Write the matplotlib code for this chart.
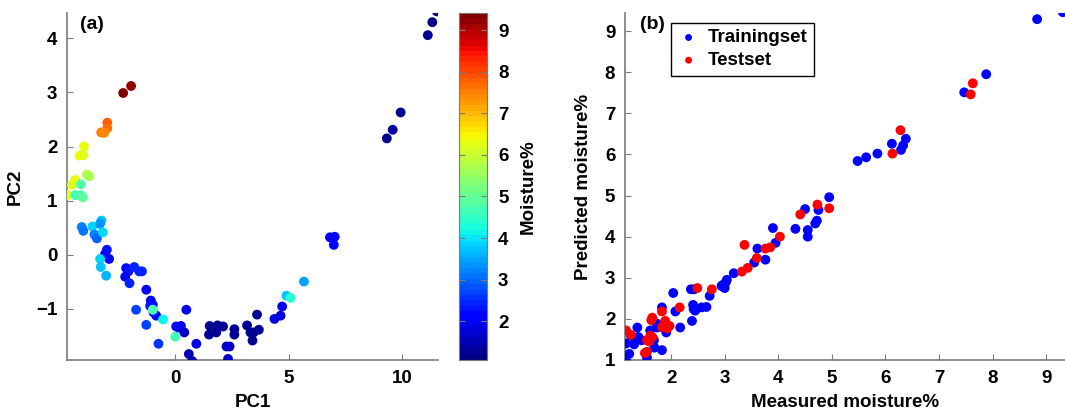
import numpy as np
import matplotlib
matplotlib.use("Agg")
import matplotlib.pyplot as plt

plt.rcParams['font.family'] = ['Liberation Sans', 'DejaVu Sans']
plt.rcParams['font.weight'] = 'bold'
plt.rcParams['axes.labelweight'] = 'bold'

# ---- (a) PCA scores coloured by moisture ----
pc1 = [11.55, 11.35, 11.15, 9.95, 9.6, 9.34,
       -2.3, -1.95, -3.0, -3.0, -3.27, -3.14,
       -4.03, -4.23, -4.06, -3.9, -3.8, -4.42, -4.56, -4.76,
       -4.17, -4.42, -4.17, -4.08,
       -4.13, -4.06, -3.66, -3.26, -3.32, -3.57, -3.46, -3.2,
       -3.02, -3.1, -2.92, -3.32, -3.29, -3.05,
       -2.17, -2.07, -2.21, -1.81, -1.59, -1.47,
       -2.02, -1.28, -1.08, -0.99, -1.11, -0.84, -0.96, -0.99,
       -1.73, -1.28, -0.54, -0.74, 0.0,
       0.04, 0.25, 0.15, 0.4, 0.49, 0.93, 0.6, 0.75,
       1.52, 1.49, 1.81, 1.87, 2.11, 2.61, 2.61,
       2.26, 2.4, 2.33,
       3.17, 3.32, 3.41, 3.61, 3.46, 3.69,
       4.38, 4.65, 4.72, 4.91, 5.09, 5.68,
       6.83, 7.04, 7.0]
pc2 = [4.5, 4.3, 4.06, 2.63, 2.31, 2.15,
       2.99, 3.12, 2.44, 2.34, 2.26, 2.25,
       2.0, 1.83, 1.84, 1.48, 1.45, 1.38, 1.29, 1.1,
       1.3, 1.1, 1.1, 1.06,
       0.51, 0.44, 0.52, 0.63, 0.57, 0.37, 0.30, 0.41,
       0.09, 0.01, -0.08, -0.08, -0.23, -0.39,
       -0.25, -0.31, -0.41, -0.23, -0.31, -0.31,
       -0.53, -0.65, -0.85, -0.93, -0.95, -1.13, -1.07, -1.02,
       -1.02, -1.30, -1.20, -1.65, -1.52,
       -1.33, -1.32, -1.35, -1.44, -1.02, -1.65, -1.84, -1.97,
       -1.32, -1.48, -1.44, -1.31, -1.33, -1.38, -1.48,
       -1.70, -1.70, -1.93,
       -1.31, -1.44, -1.59, -1.11, -1.44, -1.39,
       -1.19, -1.13, -0.96, -0.76, -0.80, -0.50,
       0.32, 0.33, 0.18]
moisture = [1.2, 1.2, 1.25, 1.3, 1.35, 1.3,
            9.35, 9.2, 7.8, 7.7, 7.5, 7.4,
            6.4, 6.3, 6.2, 5.8, 5.7, 6.3, 6.2, 6.4,
            4.8, 4.6, 4.7, 4.9,
            3.2, 3.1, 3.9, 3.7, 3.3, 3.2, 3.0, 3.9,
            2.3, 2.0, 2.0, 3.9, 3.8, 3.6,
            2.2, 2.3, 2.0, 2.5, 2.5, 2.5,
            2.5, 2.0, 2.1, 2.0, 2.3, 2.1, 2.3, 4.8,
            2.7, 2.7, 4.1, 2.6, 4.6,
            2.1, 2.1, 2.2, 1.6, 1.9, 1.9, 1.5, 1.4,
            1.25, 1.25, 1.3, 1.3, 1.3, 1.25, 1.25,
            1.7, 1.7, 1.6,
            1.3, 1.25, 1.3, 1.3, 1.3, 1.3,
            1.8, 1.8, 1.9, 3.7, 4.4, 3.5,
            2.2, 2.2, 2.1]

# ---- (b) measured vs predicted ----
train_meas = [9.31, 8.83, 7.88, 7.47,
              6.12, 6.38, 6.33, 6.29, 5.48, 5.64, 5.85,
              4.95, 4.75, 4.50, 4.72, 4.69, 4.32, 4.55, 4.55, 3.90,
              3.95, 3.61, 3.76, 3.55, 3.17,
              3.04, 3.02, 3.0, 2.94, 2.97,
              2.72, 2.66, 2.57, 2.37, 2.43, 2.04,
              2.41, 2.42, 2.45, 2.39, 2.08, 2.17, 1.83, 1.91,
              1.73, 1.74, 1.61, 1.68, 1.69, 1.83, 1.55,
              1.45, 1.39, 1.31, 1.32, 1.25, 1.37, 1.16, 1.22, 1.16]
train_pred = [9.46, 9.29, 7.95, 7.51,
              6.26, 6.38, 6.22, 6.11, 5.84, 5.93, 6.02,
              4.96, 4.65, 4.67, 4.39, 4.32, 4.19, 4.16, 4.0, 4.21,
              3.85, 3.71, 3.44, 3.37, 3.11,
              2.95, 2.89, 2.75, 2.8, 2.83,
              2.56, 2.29, 2.28, 2.72, 2.72, 2.63,
              2.34, 2.24, 2.20, 1.95, 2.18, 1.79, 2.28, 1.67,
              1.89, 1.79, 1.72, 1.48, 1.30, 1.24, 1.06,
              1.48, 1.56, 1.38, 1.54, 1.59, 1.79, 1.40, 1.15, 0.98]
test_meas = [7.63, 7.59, 6.28, 6.13,
             4.95, 4.73, 4.41, 4.03,
             3.37, 3.76, 3.85, 3.60, 3.43, 3.32,
             2.76, 2.49, 2.16, 1.83, 1.89, 1.97, 1.93, 1.83,
             1.65, 1.63, 1.61, 1.65, 1.55, 1.59, 1.55, 1.51,
             1.16, 1.25]
test_pred = [7.73, 7.46, 6.59, 6.02,
             4.69, 4.78, 4.54, 4.0,
             3.80, 3.71, 3.74, 3.48, 3.24, 3.15,
             2.72, 2.75, 2.28, 2.18, 1.95, 1.83, 1.77, 1.80,
             2.03, 1.97, 1.59, 1.56, 1.48, 1.45, 1.20, 1.17,
             1.72, 1.61]

fig = plt.figure(figsize=(10.65, 4.17), dpi=100)
W, H = 1065.0, 417.0
ax1 = fig.add_axes([67 / W, 1 - 360 / H, 371 / W, 347 / H])
cax = fig.add_axes([459 / W, 1 - 360 / H, 28 / W, 347 / H])
ax2 = fig.add_axes([625 / W, 1 - 360 / H, 440 / W, 347 / H])

spine_col = '#7a7a7a'
fs = 13.5
cmap = plt.get_cmap('jet', 64)

sc = ax1.scatter(pc1, pc2, c=moisture, cmap=cmap, vmin=1.07, vmax=9.41,
                 s=50, edgecolors='none', zorder=3)
ax1.set_xlim(-4.78, 11.6)
ax1.set_ylim(-1.95, 4.47)
ax1.set_xticks([0, 5, 10])
ax1.set_yticks([-1, 0, 1, 2, 3, 4])
ax1.set_yticklabels(['\u22121', '0', '1', '2', '3', '4'])
ax1.set_xlabel('PC1', fontsize=fs, labelpad=5)
ax1.set_ylabel('PC2', fontsize=fs, labelpad=9)
ax1.text(0.035, 0.99, '(a)', transform=ax1.transAxes, fontsize=14,
         fontweight='bold', va='top', ha='left')

cb = fig.colorbar(sc, cax=cax)
cb.set_ticks([2, 3, 4, 5, 6, 7, 8, 9])
cb.outline.set_edgecolor(spine_col)
cax.tick_params(direction='in', left=True, right=True, length=4,
                color=spine_col, labelsize=fs, pad=8)
cb.set_label('Moisture%', fontsize=fs, fontweight='bold', labelpad=8)

ax2.scatter(train_meas, train_pred, s=50, color='#0000ff', edgecolors='none',
            label='Trainingset', zorder=3)
ax2.scatter(test_meas, test_pred, s=50, color='#ff0000', edgecolors='none',
            label='Testset', zorder=3)
ax2.set_xlim(1.14, 9.35)
ax2.set_ylim(1.0, 9.44)
ax2.set_xticks(range(2, 10))
ax2.set_yticks(range(1, 10))
ax2.set_xlabel('Measured moisture%', fontsize=fs, labelpad=5)
ax2.set_ylabel('Predicted moisture%', fontsize=fs, labelpad=9)
ax2.text(0.035, 0.99, '(b)', transform=ax2.transAxes, fontsize=14,
         fontweight='bold', va='top', ha='left')
leg = ax2.legend(loc='upper left', bbox_to_anchor=(0.104, 0.972),
                 borderaxespad=0, fancybox=False, framealpha=1,
                 edgecolor='black', fontsize=fs, markerscale=0.7,
                 handletextpad=0.4, handlelength=1.2, borderpad=0.35,
                 labelspacing=0.3)
leg.get_frame().set_linewidth(1.0)

for ax in (ax1, ax2):
    for side in ('top', 'right'):
        ax.spines[side].set_visible(False)
    for side in ('left', 'bottom'):
        ax.spines[side].set_color(spine_col)
        ax.spines[side].set_linewidth(1.2)
    ax.tick_params(direction='in', length=4, color=spine_col,
                   labelsize=fs, pad=7)
    for lab in ax.get_xticklabels() + ax.get_yticklabels():
        lab.set_fontweight('bold')
for lab in cax.get_yticklabels():
    lab.set_fontweight('bold')

fig.savefig('out.png', dpi=100)
